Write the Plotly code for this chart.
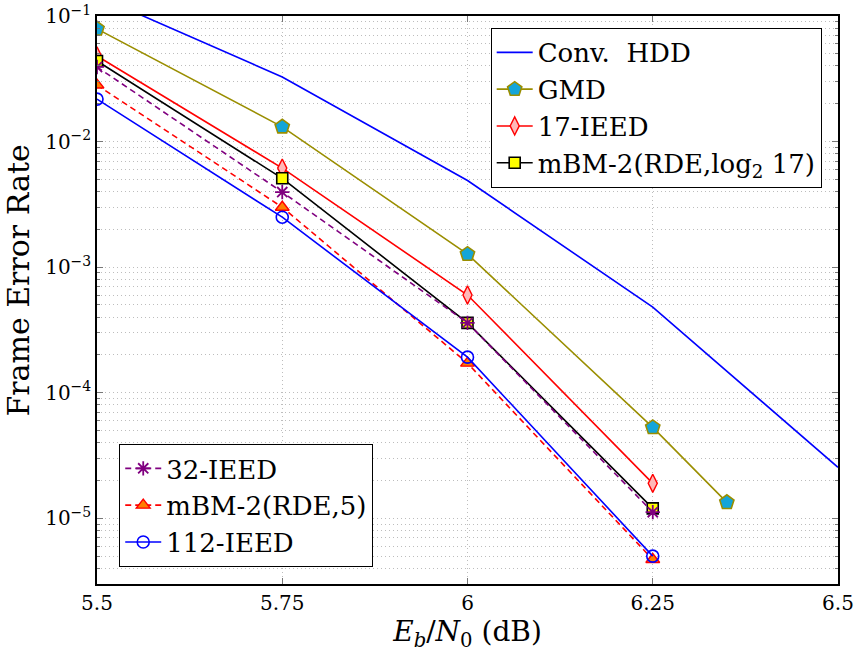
import plotly.graph_objects as go

# Eb/N0 operating points (dB)
snr = [5.5, 5.75, 6.0, 6.25]
snr_hdd = [5.5, 5.75, 6.0, 6.25, 6.5]
snr_gmd = [5.5, 5.75, 6.0, 6.25, 6.35]

# Frame error rates per decoder
fer_hdd = [0.145, 0.0327, 0.0049, 4.8e-4, 2.55e-5]
fer_gmd = [0.079, 0.0131, 0.00127, 5.3e-5, 1.34e-5]
fer_ieed17 = [0.048, 0.00615, 6.0e-4, 1.9e-5]
fer_mbm_log = [0.0438, 0.0051, 3.6e-4, 1.2e-5]
fer_ieed32 = [0.0393, 0.00396, 3.6e-4, 1.12e-5]
fer_mbm5 = [0.0282, 0.0030, 1.72e-4, 4.7e-6]
fer_ieed112 = [0.0218, 0.0025, 1.92e-4, 5.0e-6]

x_ticks = [5.5, 5.75, 6.0, 6.25, 6.5]
x_ticktext = ["5.5", "5.75", "6", "6.25", "6.5"]
y_ticks = [1e-1, 1e-2, 1e-3, 1e-4, 1e-5]
y_ticktext = ["10<sup>\u22121</sup>", "10<sup>\u22122</sup>", "10<sup>\u22123</sup>",
              "10<sup>\u22124</sup>", "10<sup>\u22125</sup>"]

FONT = "DejaVu Serif"
BLUE = "#0000ff"
OLIVE = "#9a8e00"
RED = "#ff0000"
PURPLE = "#800080"

fig = go.Figure()

fig.add_trace(go.Scatter(x=snr_hdd, y=fer_hdd, mode="lines", name="Conv.  HDD",
                         line=dict(color=BLUE, width=1.6), legend="legend"))
fig.add_trace(go.Scatter(x=snr_gmd, y=fer_gmd, mode="lines+markers", name="GMD",
                         line=dict(color=OLIVE, width=1.6),
                         marker=dict(symbol="pentagon", size=15, color="#14a5d9",
                                     line=dict(color=OLIVE, width=1.6)),
                         legend="legend"))
fig.add_trace(go.Scatter(x=snr, y=fer_ieed17, mode="lines+markers", name="17-IEED",
                         line=dict(color=RED, width=1.6),
                         marker=dict(symbol="diamond-tall", size=13, color="#ffb8b8",
                                     line=dict(color=RED, width=1.4)),
                         legend="legend"))
fig.add_trace(go.Scatter(x=snr, y=fer_mbm_log, mode="lines+markers",
                         name="mBM-2(RDE,log<sub>2</sub> 17)",
                         line=dict(color="black", width=1.6),
                         marker=dict(symbol="square", size=11, color="#ffff00",
                                     line=dict(color="black", width=1.6)),
                         legend="legend"))
fig.add_trace(go.Scatter(x=snr, y=fer_ieed32, mode="lines+markers", name="32-IEED",
                         line=dict(color=PURPLE, width=1.6, dash="6px,4px"),
                         marker=dict(symbol="asterisk", size=12, color=PURPLE,
                                     line=dict(color=PURPLE, width=1.8)),
                         legend="legend2"))
fig.add_trace(go.Scatter(x=snr, y=fer_mbm5, mode="lines+markers", name="mBM-2(RDE,5)",
                         line=dict(color=RED, width=1.6, dash="6px,4px"),
                         marker=dict(symbol="triangle-up", size=12, color="#ff7f00",
                                     line=dict(color=RED, width=1.4)),
                         legend="legend2"))
fig.add_trace(go.Scatter(x=snr, y=fer_ieed112, mode="lines+markers", name="112-IEED",
                         line=dict(color=BLUE, width=1.6),
                         marker=dict(symbol="circle-open", size=12, color=BLUE,
                                     line=dict(color=BLUE, width=1.6)),
                         legend="legend2"))

minor_y = [k * 10.0 ** d for d in range(-6, 0) for k in range(2, 10)
           if 3e-6 <= k * 10.0 ** d <= 0.1]

grid_col = "#bdbdbd"
grid_dash = "1px,3px"
fig.update_xaxes(
    range=[5.5, 6.5], tickvals=x_ticks, ticktext=x_ticktext, automargin=False,
    ticks="inside", ticklen=6, tickcolor="#777", tickwidth=1,
    showline=True, linecolor="black", linewidth=1.5, mirror="ticks",
    showgrid=True, gridcolor=grid_col, griddash=grid_dash, gridwidth=1,
    zeroline=False, tickfont=dict(family=FONT, size=20, color="black"),
    title=dict(text="<i>E</i><sub><i>b</i></sub>/<i>N</i><sub>0</sub> (dB)",
               font=dict(family=FONT, size=28, color="black"), standoff=6),
)
fig.update_yaxes(
    type="log", range=[-5.523, -1], tickvals=y_ticks, ticktext=y_ticktext,
    automargin=False,
    ticks="inside", ticklen=6, tickcolor="#777", tickwidth=1,
    showline=True, linecolor="black", linewidth=1.5, mirror="ticks",
    showgrid=True, gridcolor=grid_col, griddash=grid_dash, gridwidth=1,
    zeroline=False, tickfont=dict(family=FONT, size=20, color="black"),
    minor=dict(tickmode="array", tickvals=minor_y, ticks="inside", ticklen=3,
               tickcolor="#777", showgrid=True, gridcolor=grid_col,
               griddash=grid_dash, gridwidth=1),
)

# y-axis label placed as a rotated annotation left of the tick labels
fig.add_annotation(text="Frame Error Rate", xref="paper", yref="paper",
                   x=-0.106, y=0.535, xanchor="center", yanchor="middle",
                   textangle=-90, showarrow=False,
                   font=dict(family=FONT, size=30, color="black"))

legend_style = dict(bgcolor="white", bordercolor="black", borderwidth=1,
                    itemwidth=36, tracegroupgap=0)
fig.update_layout(
    width=857, height=656,
    margin=dict(l=97, r=19, t=16, b=72),
    paper_bgcolor="white", plot_bgcolor="white",
    font=dict(family=FONT, size=20, color="black"),
    showlegend=True,
    legend=dict(x=0.978, y=0.979, xanchor="right", yanchor="top",
                font=dict(family=FONT, size=26, color="black"), **legend_style),
    legend2=dict(x=0.03, y=0.03, xanchor="left", yanchor="bottom",
                 font=dict(family=FONT, size=26, color="black"), **legend_style),
)

fig.write_html("out.html")
